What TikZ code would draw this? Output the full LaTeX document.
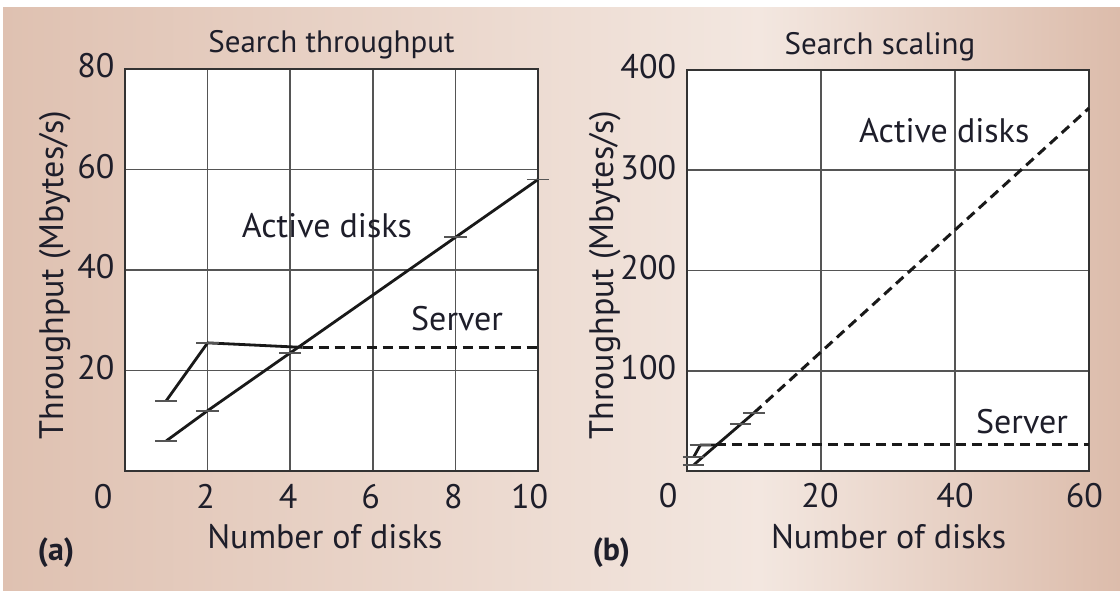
\documentclass[tikz,border=0pt]{standalone}
\usepackage{fontspec}
\setmainfont{PT Sans}
\usetikzlibrary{calc}

\definecolor{bgedge}{HTML}{DFC1B1}
\definecolor{bgmid}{HTML}{F3E7E0}
\definecolor{bgright}{HTML}{DCBCAB}
\definecolor{gridgray}{HTML}{555555}
\definecolor{inktext}{HTML}{1E1E2A}

\begin{document}
\begin{tikzpicture}[x=1pt, y=-1pt,
    grid/.style={gridgray, line width=1.6pt},
    frame/.style={black!80, line width=1.8pt},
    data/.style={black!90, line width=2.8pt, line join=round},
    datadash/.style={data, line width=3pt, dash pattern=on 10pt off 6pt},
    errbar/.style={gridgray, line width=1.8pt},
    lab/.style={font=\fontsize{34}{34}\selectfont, text=inktext, inner sep=0pt},
    ttl/.style={font=\fontsize{31}{31}\selectfont, text=inktext, inner sep=0pt}]

  % Page and shaded backdrop
  \useasboundingbox (0,0) rectangle (1120,590);
  \fill[white] (0,0) rectangle (1120,590);
  \shade[left color=bgedge, right color=bgmid] (3,7) rectangle (760,590);
  \shade[left color=bgmid, right color=bgright] (759,7) rectangle (1120,590);

  % ---------- (a) Search throughput ----------
  \begin{scope}[shift={(125,471)}, x=41.3pt, y=5.025pt]
    % Plot area and grid
    \fill[white] (0,0) rectangle (10,80);
    \foreach \gx in {2,4,6,8} \draw[grid] (\gx,0) -- (\gx,80);
    \foreach \gy in {20,40,60} \draw[grid] (0,\gy) -- (10,\gy);
    \draw[frame] (0,0) rectangle (10,80);

    % Tick labels
    \foreach \gy in {20,40,60,80} \node[lab, anchor=east] (ya\gy) at (-0.25,\gy+0.6) {\gy};
    \node[lab] (xa0) at (-0.53,-5) {0};
    \foreach \gx in {2,4,6,8} \node[lab] (xa\gx) at (\gx-0.05,-5) {\gx};
    \node[lab] (xa10) at (9.8,-5) {10};

    % Axis titles
    \node[ttl] (titlea) at (5,84.8) {Search throughput};
    \node[lab, rotate=90] (ylaba) at (-1.69,39) {Throughput (Mbytes/s)};
    \node[lab] (xlaba) at (4.84,-13.1) {Number of disks};
    \node[lab, font=\fontsize{32}{32}\selectfont\bfseries] (taga) at (-1.67,-16.3) {(a)};

    % Data points
    \coordinate (a1) at (1,6);
    \coordinate (a2) at (2,12);
    \coordinate (a4) at (4,23.5);
    \coordinate (a8) at (8,46.5);
    \coordinate (a10) at (10,58);
    \coordinate (s1) at (1,14);
    \coordinate (s2) at (2,25.5);
    \coordinate (s4) at (4.3,24.6);
    \coordinate (s10) at (10,24.6);

    % Active disks and server curves
    \draw[data] (a1) -- (a2) -- (a4) -- (a8) -- (a10);
    \draw[data] (s1) -- (s2) -- (s4);
    \draw[datadash] (s4) -- (s10);

    % Error bars
    \foreach \p in {a1,a2,a4,a8,a10,s1,s2}
      \draw[errbar] ($(\p)+(-0.27,0)$) -- ($(\p)+(0.27,0)$);

    % Curve labels
    \node[lab] (acta) at (4.89,48.8) {Active disks};
    \node[lab] (srva) at (8.04,30.4) {Server};
  \end{scope}

  % ---------- (b) Search scaling ----------
  \begin{scope}[shift={(687,471)}, x=6.7pt, y=1.0025pt]
    % Plot area and grid
    \fill[white] (0,0) rectangle (60,400);
    \foreach \gx in {20,40} \draw[grid] (\gx,0) -- (\gx,400);
    \foreach \gy in {100,200,300} \draw[grid] (0,\gy) -- (60,\gy);
    \draw[frame] (0,0) rectangle (60,400);

    % Tick labels
    \foreach \gy in {100,200,300,400} \node[lab, anchor=east] (yb\gy) at (-1.6,\gy+3) {\gy};
    \node[lab] (xb0) at (-2.8,-25) {0};
    \node[lab] (xb20) at (19.85,-25) {20};
    \node[lab] (xb40) at (40,-25) {40};
    \node[lab] (xb60) at (59.3,-25) {60};

    % Axis titles
    \node[ttl] (titleb) at (28.8,423) {Search scaling};
    \node[lab, rotate=90] (ylabb) at (-12.2,195.5) {Throughput (Mbytes/s)};
    \node[lab] (xlabb) at (30.1,-65.8) {Number of disks};
    \node[lab, font=\fontsize{32}{32}\selectfont\bfseries] (tagb) at (-11.3,-81.8) {(b)};

    % Data points and extrapolation
    \coordinate (b1) at (1,6);
    \coordinate (b2) at (2,12);
    \coordinate (b4) at (4,23.5);
    \coordinate (b8) at (8,46.5);
    \coordinate (b10) at (10,58);
    \coordinate (b60) at (60,362);
    \coordinate (t1) at (1,14);
    \coordinate (t2) at (2,26);
    \coordinate (t4) at (4.3,26);
    \coordinate (t60) at (60,26);

    \draw[data] (b1) -- (b2) -- (b4) -- (b8) -- (b10);
    \draw[datadash] (b10) -- (b60);
    \draw[data] (t1) -- (t2) -- (t4);
    \draw[datadash] (t4) -- (t60);

    % Error bars
    \foreach \p in {b1,b8,b10,t1,t2}
      \draw[errbar] ($(\p)+(-1.6,0)$) -- ($(\p)+(1.6,0)$);

    % Curve labels
    \node[lab] (actb) at (38.4,340) {Active disks};
    \node[lab] (srvb) at (50,49) {Server};
  \end{scope}

\end{tikzpicture}
\end{document}
